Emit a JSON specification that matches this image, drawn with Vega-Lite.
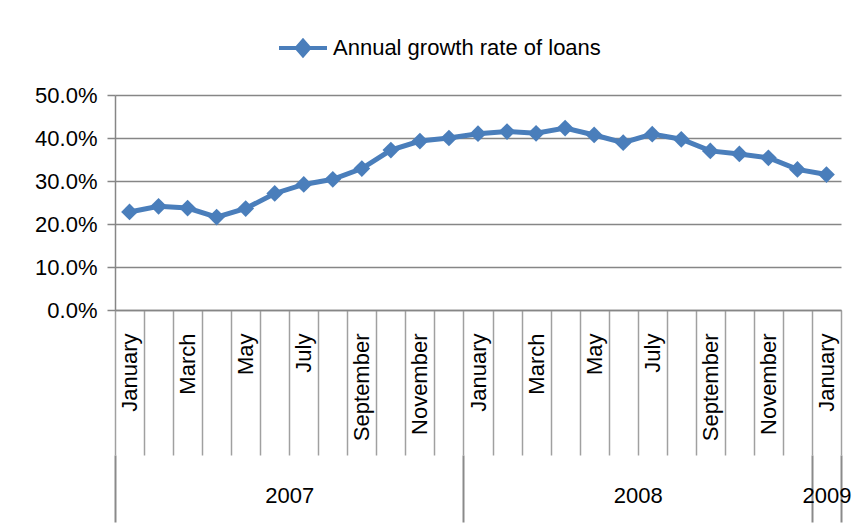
{
  "$schema": "https://vega.github.io/schema/vega-lite/v6.json",
  "width": 726,
  "height": 215,
  "autosize": {"type": "none"},
  "padding": {"left": 115, "top": 95, "right": 18, "bottom": 222},
  "background": "white",
  "config": {"font": "Liberation Sans", "view": {"stroke": null}},
  "datasets": {
    "loans": [
      {"month": "January 2007", "rate": 0.228},
      {"month": "February 2007", "rate": 0.241},
      {"month": "March 2007", "rate": 0.237},
      {"month": "April 2007", "rate": 0.216},
      {"month": "May 2007", "rate": 0.236},
      {"month": "June 2007", "rate": 0.271},
      {"month": "July 2007", "rate": 0.292},
      {"month": "August 2007", "rate": 0.304},
      {"month": "September 2007", "rate": 0.329},
      {"month": "October 2007", "rate": 0.372},
      {"month": "November 2007", "rate": 0.393},
      {"month": "December 2007", "rate": 0.400},
      {"month": "January 2008", "rate": 0.410},
      {"month": "February 2008", "rate": 0.415},
      {"month": "March 2008", "rate": 0.411},
      {"month": "April 2008", "rate": 0.423},
      {"month": "May 2008", "rate": 0.407},
      {"month": "June 2008", "rate": 0.389},
      {"month": "July 2008", "rate": 0.409},
      {"month": "August 2008", "rate": 0.397},
      {"month": "September 2008", "rate": 0.370},
      {"month": "October 2008", "rate": 0.363},
      {"month": "November 2008", "rate": 0.354},
      {"month": "December 2008", "rate": 0.327},
      {"month": "January 2009", "rate": 0.315}
    ],
    "monthBounds": [
      {"b": 0}, {"b": 1}, {"b": 2}, {"b": 3}, {"b": 4}, {"b": 5}, {"b": 6}, {"b": 7}, {"b": 8},
      {"b": 9}, {"b": 10}, {"b": 11}, {"b": 12}, {"b": 13}, {"b": 14}, {"b": 15}, {"b": 16},
      {"b": 17}, {"b": 18}, {"b": 19}, {"b": 20}, {"b": 21}, {"b": 22}, {"b": 23}, {"b": 24}, {"b": 25}
    ],
    "yearBounds": [{"b": 0}, {"b": 12}, {"b": 24}, {"b": 25}],
    "yearMid": [{"year": "2007", "mid": 6}, {"year": "2008", "mid": 18}, {"year": "2009", "mid": 24.5}]
  },
  "layer": [
    {
      "data": {"name": "monthBounds"},
      "mark": {"type": "point", "opacity": 0},
      "encoding": {
        "x": {
          "field": "b",
          "type": "quantitative",
          "scale": {"domain": [0, 25], "nice": false, "zero": false},
          "axis": {
            "orient": "bottom",
            "title": null,
            "values": [0, 1, 2, 3, 4, 5, 6, 7, 8, 9, 10, 11, 12, 13, 14, 15, 16, 17, 18, 19, 20, 21, 22, 23, 24, 25],
            "labels": false,
            "domain": false,
            "grid": false,
            "tickSize": 145,
            "tickColor": "#a0a0a0",
            "tickWidth": 1.5
          }
        }
      }
    },
    {
      "data": {"name": "loans"},
      "encoding": {
        "x": {
          "field": "month",
          "type": "ordinal",
          "sort": null,
          "scale": {"paddingInner": 0, "paddingOuter": 0},
          "axis": {
            "orient": "bottom",
            "title": null,
            "grid": false,
            "ticks": false,
            "domainColor": "#868686",
            "domainWidth": 1.5,
            "labelAngle": -90,
            "labelAlign": "right",
            "labelBaseline": "middle",
            "labelPadding": 23,
            "labelFontSize": 22,
            "labelColor": "#000000",
            "labelOverlap": false,
            "labelExpr": "test(/^(January|March|May|July|September|November)/, datum.value) ? split(datum.value, ' ')[0] : ''"
          }
        },
        "y": {
          "field": "rate",
          "type": "quantitative",
          "scale": {"domain": [0, 0.5], "nice": false},
          "axis": {
            "title": null,
            "values": [0, 0.1, 0.2, 0.3, 0.4, 0.5],
            "format": ".1%",
            "grid": true,
            "gridColor": "#868686",
            "gridWidth": 1.5,
            "domainColor": "#868686",
            "domainWidth": 1.5,
            "tickColor": "#868686",
            "tickWidth": 1.5,
            "tickSize": 8,
            "labelPadding": 10,
            "labelFontSize": 22,
            "labelColor": "#000000"
          }
        },
        "color": {
          "datum": "Annual growth rate of loans",
          "type": "nominal",
          "scale": {"range": ["#4a7ebb"]},
          "legend": {
            "title": null,
            "orient": "none",
            "legendX": 162,
            "legendY": -73,
            "labelFontSize": 22,
            "labelColor": "#000000",
            "labelLimit": 0,
            "labelOffset": 4,
            "symbolType": "M-1,0L1,0M0,-0.3L0.26,0L0,0.3L-0.26,0Z",
            "symbolSize": 2304,
            "symbolStrokeWidth": 4,
            "symbolFillColor": "#4a7ebb",
            "symbolStrokeColor": "#4a7ebb",
            "encode": {
              "symbols": {
                "update": {
                  "fill": {"value": "#4a7ebb"},
                  "stroke": {"value": "#4a7ebb"},
                  "strokeWidth": {"value": 4},
                  "opacity": {"value": 1},
                  "shape": {"value": "M-1,0L1,0M0,-0.3L0.26,0L0,0.3L-0.26,0Z"},
                  "size": {"value": 2304}
                }
              }
            }
          }
        }
      },
      "layer": [
        {"mark": {"type": "line", "strokeWidth": 5}},
        {"mark": {"type": "point", "shape": "diamond", "filled": true, "size": 280, "opacity": 1}}
      ]
    },
    {
      "data": {"name": "yearBounds"},
      "mark": {"type": "point", "opacity": 0},
      "encoding": {
        "x": {
          "field": "b",
          "type": "quantitative",
          "scale": {"domain": [0, 25], "nice": false, "zero": false},
          "axis": {
            "orient": "bottom",
            "title": null,
            "values": [0, 12, 24, 25],
            "labels": false,
            "domain": false,
            "grid": false,
            "offset": 145,
            "tickSize": 67,
            "tickColor": "#8a8a8a",
            "tickWidth": 2
          }
        }
      }
    },
    {
      "data": {"name": "yearMid"},
      "mark": {"type": "point", "opacity": 0},
      "encoding": {
        "x": {
          "field": "mid",
          "type": "quantitative",
          "scale": {"domain": [0, 25], "nice": false, "zero": false},
          "axis": {
            "orient": "bottom",
            "title": null,
            "values": [6, 18, 24.5],
            "ticks": false,
            "domain": false,
            "grid": false,
            "labelPadding": 175,
            "labelFontSize": 22,
            "labelColor": "#000000",
            "labelFlush": false,
            "labelOverlap": false,
            "labelExpr": "datum.value < 12 ? '2007' : datum.value < 24 ? '2008' : '2009'"
          }
        }
      }
    }
  ],
  "resolve": {"scale": {"x": "independent"}}
}
